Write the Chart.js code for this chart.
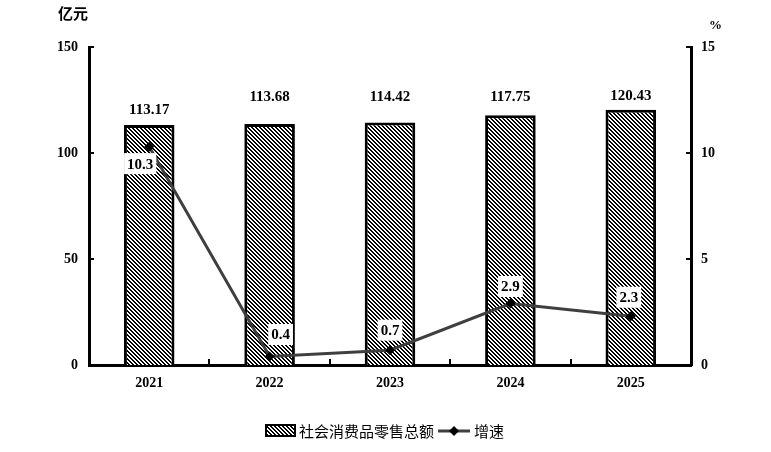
<!DOCTYPE html>
<html><head><meta charset="utf-8">
<script src="https://cdn.jsdelivr.net/npm/chart.js@4/dist/chart.umd.min.js"></script>
<style>html,body{margin:0;padding:0;background:#fff}canvas{display:block}</style>
</head><body>
<canvas id="c" width="771" height="452"></canvas>
<script>
const categories = ['2021', '2022', '2023', '2024', '2025'];
const retailSales = [113.17, 113.68, 114.42, 117.75, 120.43];
const growthRate = [10.3, 0.4, 0.7, 2.9, 2.3];
const leftTicks = [0, 50, 100, 150];
const rightTicks = [0, 5, 10, 15];
const seriesNames = ['社会消费品零售总额', '增速'];
const unitLeft = '亿元';
const unitRight = '%';

const SERIF = '"Liberation Serif", "Times New Roman", serif';
const CJK = '"Noto Sans CJK SC", sans-serif';

const ctx0 = document.getElementById('c').getContext('2d');
function makeTile() {
  const t = document.createElement('canvas');
  t.width = 4; t.height = 4;
  const g = t.getContext('2d');
  g.fillStyle = '#fff'; g.fillRect(0, 0, 4, 4);
  g.fillStyle = '#000';
  for (let y = 0; y < 4; y++) for (let x = 0; x < 4; x++) {
    const d = ((x - y) % 4 + 4) % 4;
    if (d === 0 || d === 1) g.fillRect(x, y, 1, 1);
  }
  return t;
}
const pat = ctx0.createPattern(makeTile(), 'repeat');

const barLabelOffset = [-15, -27, -25, -18, -14];
const lineLabelOffset = [[-9, 17], [11, -22], [0, -20], [0, -17], [-2, -19]];

const extras = {
  id: 'extras',
  afterDraw(chart) {
    const c = chart.ctx;
    const ca = chart.chartArea;
    const yl = chart.scales.y, yr = chart.scales.y1, x = chart.scales.x;
    c.save();
    c.strokeStyle = '#000'; c.lineWidth = 2;
    leftTicks.forEach(v => { const p = Math.round(yl.getPixelForValue(v)); if (v > 0) { c.beginPath(); c.moveTo(ca.left, p); c.lineTo(ca.left + 5, p); c.stroke(); } });
    rightTicks.forEach(v => { const p = Math.round(yr.getPixelForValue(v)); if (v > 0) { c.beginPath(); c.moveTo(ca.right, p); c.lineTo(ca.right - 5, p); c.stroke(); } });
    for (let i = 1; i < categories.length; i++) {
      const p = Math.round((x.getPixelForValue(i - 1) + x.getPixelForValue(i)) / 2);
      c.beginPath(); c.moveTo(p, ca.bottom); c.lineTo(p, ca.bottom - 6); c.stroke();
    }
    c.fillStyle = '#000';
    c.font = 'bold 15px ' + CJK; c.textAlign = 'left'; c.textBaseline = 'middle';
    c.fillText(unitLeft, 58, 13);
    c.font = 'bold 13px ' + SERIF;
    c.fillText(unitRight, 709, 26);
    const bm = chart.getDatasetMeta(0);
    c.font = 'bold 15px ' + SERIF; c.textAlign = 'center'; c.textBaseline = 'middle';
    bm.data.forEach((el, i) => {
      c.fillText(retailSales[i].toFixed(2), el.x, el.y + barLabelOffset[i]);
    });
    const lm = chart.getDatasetMeta(1);
    c.font = 'bold 15px ' + SERIF;
    lm.data.forEach((el, i) => {
      const txt = String(growthRate[i]);
      const w = c.measureText(txt).width + 6, h = 21;
      const cx = el.x + lineLabelOffset[i][0], cy = el.y + lineLabelOffset[i][1];
      c.fillStyle = '#fff'; c.fillRect(cx - w / 2, cy - h / 2, w, h);
      c.fillStyle = '#000'; c.fillText(txt, cx, cy + 1);
    });
    c.font = '15px ' + CJK; c.textBaseline = 'middle'; c.textAlign = 'left';
    const t1 = c.measureText(seriesNames[0]).width, t2 = c.measureText(seriesNames[1]).width;
    const boxW = 29, lineW = 32;
    const total = boxW + 4 + t1 + 4 + lineW + 4 + t2;
    let sx = Math.round(385 - total / 2);
    const ly = 431;
    c.fillStyle = pat; c.fillRect(sx, ly - 6, boxW, 11);
    c.strokeStyle = '#000'; c.lineWidth = 2; c.strokeRect(sx, ly - 6, boxW, 11);
    sx += boxW + 4;
    c.fillStyle = '#000'; c.fillText(seriesNames[0], sx, ly);
    sx += t1 + 4;
    c.strokeStyle = '#3f3f3f'; c.lineWidth = 3; c.beginPath(); c.moveTo(sx, ly); c.lineTo(sx + lineW, ly); c.stroke();
    const mx = sx + lineW / 2;
    c.fillStyle = '#000'; c.beginPath(); c.moveTo(mx, ly - 5); c.lineTo(mx + 5, ly); c.lineTo(mx, ly + 5); c.lineTo(mx - 5, ly); c.closePath(); c.fill();
    sx += lineW + 4;
    c.fillText(seriesNames[1], sx, ly);
    c.restore();
  }
};

const tickFont = { family: SERIF, size: 14, weight: 'bold' };

new Chart(ctx0, {
  data: {
    labels: categories,
    datasets: [
      { type: 'bar', label: seriesNames[0], data: retailSales, yAxisID: 'y', backgroundColor: pat, borderColor: '#000', borderWidth: 3, barPercentage: 0.42, categoryPercentage: 1, order: 2 },
      { type: 'line', label: seriesNames[1], data: growthRate, yAxisID: 'y1', borderColor: '#3f3f3f', borderWidth: 3, tension: 0, pointStyle: 'rectRot', pointRadius: 5, pointBackgroundColor: '#000', pointBorderColor: '#000', pointBorderWidth: 0, order: 1 }
    ]
  },
  options: {
    responsive: false, animation: false,
    layout: { padding: { top: 47, left: 0, right: 0, bottom: 0 } },
    plugins: { legend: { display: false }, tooltip: { enabled: false } },
    scales: {
      x: {
        grid: { display: false, drawTicks: false },
        border: { display: true, color: '#000', width: 3 },
        ticks: { color: '#000', font: tickFont, padding: 10 },
        afterFit(s) { s.height = 87; }
      },
      y: {
        position: 'left', min: 0, max: 150,
        afterBuildTicks(s) { s.ticks = leftTicks.map(v => ({ value: v })); },
        grid: { display: false, drawTicks: false },
        border: { display: true, color: '#000', width: 3 },
        ticks: { color: '#000', font: tickFont, padding: 11 },
        afterFit(s) { s.width = 89; }
      },
      y1: {
        position: 'right', min: 0, max: 15,
        afterBuildTicks(s) { s.ticks = rightTicks.map(v => ({ value: v })); },
        grid: { display: false, drawTicks: false },
        border: { display: true, color: '#000', width: 3 },
        ticks: { color: '#000', font: tickFont, padding: 10 },
        afterFit(s) { s.width = 80; }
      }
    }
  },
  plugins: [extras]
});
</script>
</body></html>
